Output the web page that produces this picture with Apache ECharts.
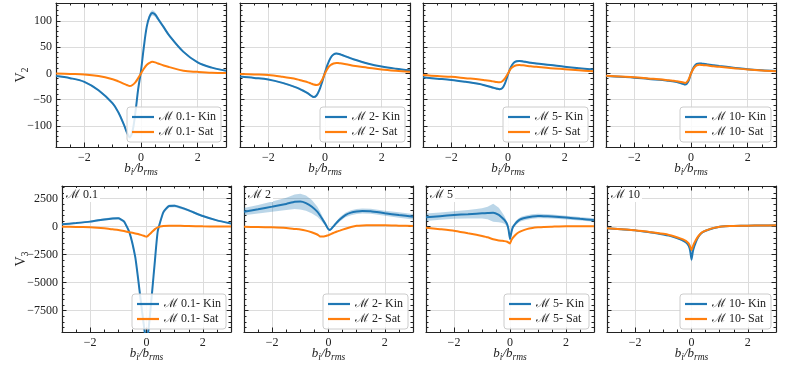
<!DOCTYPE html>
<html>
<head>
<meta charset="utf-8">
<script src="https://cdn.jsdelivr.net/npm/echarts@6/dist/echarts.min.js"></script>
<style>
html,body{margin:0;padding:0;background:#fff;}
#c{width:792px;height:368px;}
</style>
</head>
<body>
<div id="c"></div>
<script>
// ---------- data ----------
const X_TOP = [-3,-2.5,-2,-1.5,-1,-0.8,-0.6,-0.5,-0.4,-0.3,-0.2,-0.1,0,0.1,0.2,0.3,0.4,0.5,0.6,0.8,1,1.5,2,2.5,3];
const X_BOT = [-3,-2.5,-2,-1.5,-1.2,-1,-0.8,-0.6,-0.4,-0.3,-0.2,-0.1,-0.05,0,0.05,0.1,0.2,0.3,0.4,0.6,0.8,1,1.2,1.5,2,2.5,3];
const machLabels = ['0.1','2','5','10'];
const xTickLabels = ['−2','0','2'];
const v2TickLabels = ['100','50','0','−50','−100'];
const v3TickLabels = ['2500','0','−2500','−5000','−7500'];

// V2 (top row)
const v2Kin_M01 = [-5,-9,-16,-32,-57,-74,-98,-112,-121,-110,-75,-30,5,50,88,108,115,112,104,88,72,41,21,11,5];
const v2Sat_M01 = [0,-1,-2,-5,-11,-15,-20,-22,-24,-22,-17,-9,0,9,16,20,22,21,19,15,12,5,3,1.5,1];
const v2Err_M01 = [1,1,1.5,2,2.5,3,3.5,4,5,5,4,3,3,3,4,5,5,4.5,4,3,2.5,2,1.5,1,1];
const v2Kin_M2 = [-6,-8.5,-11.5,-18,-27,-32,-38,-42,-45,-42,-32,-16,2,18,30,36,38,37,35,31,27,19,13,9,6];
const v2Sat_M2 = [-1,-2,-3,-6.5,-11,-14,-17,-19,-21,-22,-20,-12,0,10,16,19,20,19.5,19,17,14.5,11,7.5,5,3];
const v2Err_M2 = [1,1,1,1.5,1.5,2,2,2,2,2,2,1.5,1.5,1.5,2,2,2,2,2,2,1.5,1.5,1,1,1];
const v2Kin_M5 = [-7.5,-10,-12.5,-16,-20,-23,-26,-27.5,-29,-30,-28,-18,-2,12,20,23,23.5,23,22,20.5,19,16,12.5,10,7.5];
const v2Sat_M5 = [-3,-5,-6.5,-9,-11.5,-13,-14.5,-15.5,-16.5,-17,-15,-9,0,9,13.5,15.5,16,15.5,15,13.5,12.5,10,8,6,4];
const v2Err_M5 = [1,1,1,1.5,1.5,1.5,2,2,2,2,2,1.5,1.5,1.5,2,2,2,2,2,1.5,1.5,1.5,1,1,1];
const v2Kin_M10 = [-5,-6.5,-8,-10.5,-12.5,-14,-15.5,-16.5,-18,-19.5,-21,-16,0,12,18,19,18.5,18,17,15.5,14,11,8,6,4.5];
const v2Sat_M10 = [-4.5,-6,-7.5,-9.5,-11.5,-13,-14,-15,-16,-17,-18,-13,0,10,15.5,16.5,16,15.5,15,13.5,12.5,10,7.5,5.5,4];
const v2Err_M10 = [1,1,1,1,1,1,1,1,1.5,1.5,1.5,1.5,1.5,1.5,1.5,1.5,1.5,1,1,1,1,1,1,1,1];

// V3 (bottom row)
const v3Kin_M01 = [210,320,450,650,740,750,480,-550,-2700,-4600,-6700,-8700,-9600,-10000,-9600,-8500,-5800,-3000,-400,1300,1850,1860,1720,1450,950,560,290];
const v3Sat_M01 = [0,-20,-60,-150,-240,-300,-390,-500,-600,-660,-730,-810,-860,-900,-820,-700,-460,-220,-60,50,80,80,75,60,35,15,5];
const v3Err_M01 = [60,70,80,100,110,110,100,120,200,300,400,500,600,600,600,500,400,300,150,120,130,130,120,100,80,70,60];
const v3Kin_M2 = [1340,1560,1790,2030,2230,2240,2100,1800,1340,1000,600,200,-50,-230,-300,-200,100,380,650,1040,1250,1350,1400,1380,1200,1040,890];
const v3Sat_M2 = [-10,-30,-60,-120,-200,-250,-350,-500,-700,-870,-880,-830,-790,-760,-700,-640,-530,-430,-350,-180,-30,80,110,120,120,90,60];
const v3Err_M2 = [330,380,450,550,650,700,680,600,450,350,250,150,100,80,80,100,130,160,180,200,220,220,220,220,230,240,250];
const v3Kin_M5 = [840,940,1040,1110,1160,1190,1220,1250,1050,840,600,200,-300,-1100,-500,-50,300,540,680,810,900,950,940,900,810,700,600];
const v3Sat_M5 = [-90,-220,-360,-590,-720,-830,-950,-1120,-1230,-1260,-1290,-1350,-1420,-1500,-1200,-1000,-720,-520,-400,-220,-120,-60,-20,0,30,30,30];
const v3Err_M5 = [330,330,330,380,420,450,550,800,650,500,350,200,150,150,150,150,180,200,200,200,200,200,190,180,170,160,150];
const v3Kin_M10 = [-150,-240,-330,-500,-600,-690,-800,-950,-1130,-1250,-1400,-1700,-2100,-2950,-2200,-1750,-1100,-700,-480,-270,-120,0,40,70,90,110,120];
const v3Sat_M10 = [-150,-230,-320,-470,-560,-640,-740,-880,-1040,-1140,-1270,-1500,-1750,-2100,-1750,-1450,-1000,-680,-470,-260,-110,0,40,70,90,110,120];
const v3Err_M10 = [60,60,60,60,60,60,60,70,80,90,100,120,150,200,150,120,100,80,70,60,60,60,60,60,60,60,60];

// ---------- layout ----------
const FONT = '"Liberation Serif", "DejaVu Serif", serif';
const BLUE = '#1f77b4', ORANGE = '#ff7f0e';
const FRAME = '#222';
const panels = [
  {row:0, m:0, x:X_TOP, kin:v2Kin_M01, sat:v2Sat_M01, err:v2Err_M01, l:56,  t:3, w:170, h:144},
  {row:0, m:1, x:X_TOP, kin:v2Kin_M2,  sat:v2Sat_M2,  err:v2Err_M2,  l:240, t:3, w:170, h:144},
  {row:0, m:2, x:X_TOP, kin:v2Kin_M5,  sat:v2Sat_M5,  err:v2Err_M5,  l:423, t:3, w:170, h:144},
  {row:0, m:3, x:X_TOP, kin:v2Kin_M10, sat:v2Sat_M10, err:v2Err_M10, l:606, t:3, w:170, h:144},
  {row:1, m:0, x:X_BOT, kin:v3Kin_M01, sat:v3Sat_M01, err:v3Err_M01, l:62,  t:186, w:169, h:146},
  {row:1, m:1, x:X_BOT, kin:v3Kin_M2,  sat:v3Sat_M2,  err:v3Err_M2,  l:244, t:186, w:169, h:146},
  {row:1, m:2, x:X_BOT, kin:v3Kin_M5,  sat:v3Sat_M5,  err:v3Err_M5,  l:426, t:186, w:168, h:146},
  {row:1, m:3, x:X_BOT, kin:v3Kin_M10, sat:v3Sat_M10, err:v3Err_M10, l:607, t:186, w:169, h:146}
];
const rowY = [
  {min:-140, max:134, major:50, minor:10, labels:v2TickLabels, name:'{v|V}{s|2}', legInset:5},
  {min:-9400, max:3630, major:2500, minor:500, labels:v3TickLabels, name:'{v|V}{s|3}', legInset:3}
];
const fmt = v => String(v).replace('-', '−');

const grid = [], xAxis = [], yAxis = [], series = [], legend = [], title = [];
panels.forEach((p, gi) => {
  grid.push({left:p.l, top:p.t, width:p.w, height:p.h, containLabel:false});
  const ry = rowY[p.row];
  const firstCol = p.m === 0;
  const xi = xAxis.length, yi = yAxis.length;
  const tickStyle = {color:FRAME, width:1};
  const majorLine = {show:true, onZero:false, lineStyle:{color:FRAME, width:1.2}};
  const noLine = {show:false, onZero:false};
  xAxis.push({type:'value', gridIndex:gi, position:'bottom', min:-3, max:3, minInterval:2, maxInterval:2,
    axisLine:majorLine,
    axisTick:{show:true, inside:true, length:4.5, lineStyle:tickStyle},
    axisLabel:{show:true, showMinLabel:false, showMaxLabel:false, margin:5, fontSize:12, color:'#222', fontFamily:FONT,
      formatter: v => xTickLabels[[-2,0,2].indexOf(v)] ?? fmt(v)},
    splitLine:{show:true, lineStyle:{color:'#dcdcdc', width:1}},
    name:'{i|b}{s|i}{i|/b}{s|rms}', nameLocation:'middle', nameGap:13, nameMoveOverlap:false,
    nameTextStyle:{rich:{
      i:{fontFamily:FONT, fontStyle:'italic', fontSize:13, lineHeight:17, color:'#222'},
      s:{fontFamily:FONT, fontStyle:'italic', fontSize:9.5, lineHeight:9, verticalAlign:'bottom', color:'#222'}}}
  });
  xAxis.push({type:'value', gridIndex:gi, position:'bottom', min:-3, max:3, minInterval:0.5, maxInterval:0.5,
    axisLine:noLine, axisTick:{show:true, inside:true, length:2.5, lineStyle:tickStyle},
    axisLabel:{show:false}, splitLine:{show:false}});
  xAxis.push({type:'value', gridIndex:gi, position:'top', min:-3, max:3, minInterval:2, maxInterval:2,
    axisLine:majorLine,
    axisTick:{show:true, inside:true, length:4.5, lineStyle:tickStyle},
    axisLabel:{show:false}, splitLine:{show:false}});
  xAxis.push({type:'value', gridIndex:gi, position:'top', min:-3, max:3, minInterval:0.5, maxInterval:0.5,
    axisLine:noLine, axisTick:{show:true, inside:true, length:2.5, lineStyle:tickStyle},
    axisLabel:{show:false}, splitLine:{show:false}});
  yAxis.push({type:'value', gridIndex:gi, position:'left', min:ry.min, max:ry.max, minInterval:ry.major, maxInterval:ry.major,
    axisLine:majorLine,
    axisTick:{show:true, inside:true, length:4.5, lineStyle:tickStyle},
    axisLabel:{show:firstCol, showMinLabel:false, showMaxLabel:false, margin:4, fontSize:12, color:'#222', fontFamily:FONT,
      formatter: v => fmt(v)},
    splitLine:{show:true, lineStyle:{color:'#dcdcdc', width:1}},
    name: firstCol ? ry.name : '', nameLocation:'middle', nameGap: p.row === 0 ? 26 : 32, nameMoveOverlap:false,
    nameTextStyle:{rich:{
      v:{fontFamily:FONT, fontSize:14, lineHeight:18, color:'#222'},
      s:{fontFamily:FONT, fontSize:10, lineHeight:10, verticalAlign:'bottom', color:'#222'}}}
  });
  yAxis.push({type:'value', gridIndex:gi, position:'left', min:ry.min, max:ry.max, minInterval:ry.minor, maxInterval:ry.minor,
    axisLine:noLine, axisTick:{show:true, inside:true, length:2.5, lineStyle:tickStyle},
    axisLabel:{show:false}, splitLine:{show:false}});
  yAxis.push({type:'value', gridIndex:gi, position:'right', min:ry.min, max:ry.max, minInterval:ry.major, maxInterval:ry.major,
    axisLine:majorLine,
    axisTick:{show:true, inside:true, length:4.5, lineStyle:tickStyle},
    axisLabel:{show:false}, splitLine:{show:false}});
  yAxis.push({type:'value', gridIndex:gi, position:'right', min:ry.min, max:ry.max, minInterval:ry.minor, maxInterval:ry.minor,
    axisLine:noLine, axisTick:{show:true, inside:true, length:2.5, lineStyle:tickStyle},
    axisLabel:{show:false}, splitLine:{show:false}});

  const smooth = p.row === 0 ? 0.35 : 0.15;
  const kinName = 'ℳ ' + machLabels[p.m] + '- Kin';
  const satName = 'ℳ ' + machLabels[p.m] + '- Sat';
  const bandData = p.x.map((xv,j)=>[xv, p.kin[j]-p.err[j], p.kin[j]+p.err[j]]);
  series.push({type:'custom', name:'band'+gi, xAxisIndex:xi, yAxisIndex:yi, silent:true, z:1,
    encode:{x:0, y:[1,2]}, data:bandData,
    renderItem:(params, api) => {
      if (params.dataIndex !== 0) return null;
      const upper = bandData.map(d => api.coord([d[0], d[2]]));
      const lower = bandData.map(d => api.coord([d[0], d[1]])).reverse();
      const cs = params.coordSys;
      return {type:'polygon', shape:{points: upper.concat(lower), smooth: p.row === 0 ? 0.3 : 0},
        style:{fill:'rgba(31,119,180,0.3)', stroke:null},
        clipPath:{type:'rect', shape:{x:cs.x, y:cs.y, width:cs.width, height:cs.height}}};
    }});
  series.push({type:'line', name:kinName, xAxisIndex:xi, yAxisIndex:yi,
    data:p.x.map((xv,j)=>[xv, p.kin[j]]), symbol:'none', smooth, color:BLUE,
    lineStyle:{color:BLUE, width:2}, z:2, animation:false});
  series.push({type:'line', name:satName, xAxisIndex:xi, yAxisIndex:yi,
    data:p.x.map((xv,j)=>[xv, p.sat[j]]), symbol:'none', smooth, color:ORANGE,
    lineStyle:{color:ORANGE, width:2}, z:2.5, animation:false});

  legend.push({data:[kinName, satName], orient:'vertical', right: 792-(p.l+p.w)+5, bottom: 368-(p.t+p.h)+ry.legInset,
    icon:'rect', itemWidth:22, itemHeight:2.2, itemGap:3, padding:[4,5,4,5], zlevel:1, z:20,
    backgroundColor:'rgba(255,255,255,0.85)', borderColor:'#cccccc', borderWidth:1, borderRadius:3,
    textStyle:{fontFamily:FONT, fontSize:12, color:'#222'}, selectedMode:false});

  if (p.row === 1) {
    title.push({text:'ℳ ' + machLabels[p.m], left:p.l+2, top:p.t+2, padding:[1,2,1,2], backgroundColor:'#fff', zlevel:1, z:20,
      textStyle:{fontFamily:FONT, fontSize:12, fontWeight:'normal', color:'#222'}});
  }
});

const chart = echarts.init(document.getElementById('c'), null, {renderer:'canvas'});
chart.setOption({animation:false, backgroundColor:'#fff', grid, xAxis, yAxis, series, legend, title});
</script>
</body>
</html>
